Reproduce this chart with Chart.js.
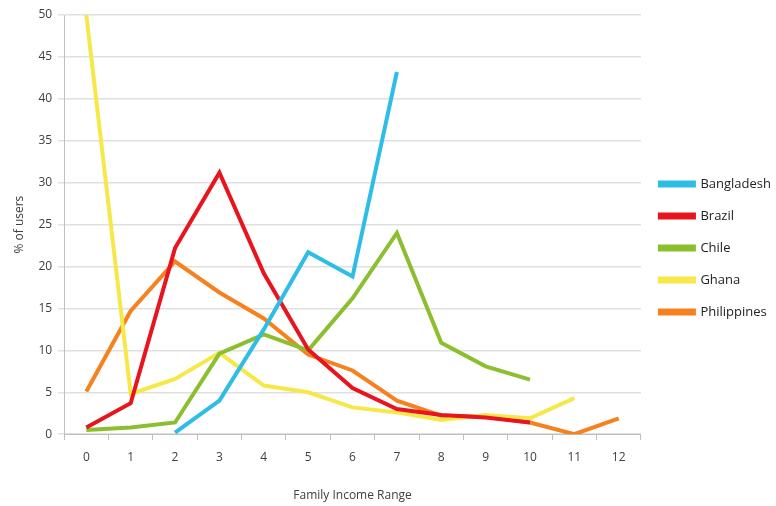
<!DOCTYPE html>
<html lang="en">
  <head>
    <meta charset="UTF-8" />
    <title>Family Income Range</title>
    <style>
      html, body { margin: 0; padding: 0; background: #fff; }
      #wrap { width: 776px; height: 506px; }
    </style>
  </head>
  <body>
    <div id="wrap"><canvas id="myChart" width="776" height="506"></canvas></div>

    <script src="https://cdn.jsdelivr.net/npm/chart.js"></script>
    <script>
      // income range categories on the x axis
      const incomeRanges = ["0", "1", "2", "3", "4", "5", "6", "7", "8", "9", "10", "11", "12"];

      // % of users per range, null where the country has no value
      const bangladesh = [null, null, 0.2, 4.0, 12.5, 21.7, 18.8, 43.2, null, null, null, null, null];
      const brazil = [0.8, 3.7, 22.2, 31.2, 19.2, 10.1, 5.5, 3.0, 2.3, 2.0, 1.4, null, null];
      const chile = [0.5, 0.8, 1.4, 9.6, 11.9, 10.0, 16.2, 24.0, 10.9, 8.1, 6.5, null, null];
      const ghana = [50, 4.8, 6.6, 9.7, 5.8, 5.0, 3.2, 2.6, 1.7, 2.3, 1.9, 4.3, null];
      const philippines = [5.1, 14.7, 20.6, 16.9, 13.8, 9.5, 7.6, 4.0, 2.2, 2.1, 1.4, 0.0, 1.9];

      const yTicks = [0, 5, 10, 15, 20, 25, 30, 35, 40, 45, 50];

      const font = "'Open Sans', 'DejaVu Sans', sans-serif";
      const textColor = "#404040";

      function line(label, data, color) {
        return {
          label: label,
          data: data,
          borderColor: color,
          backgroundColor: color,
          borderWidth: 4,
          pointRadius: 0,
          pointHoverRadius: 0,
          tension: 0,
          fill: false,
        };
      }

      // the legend in the original sits a bit above the middle
      const liftLegend = {
        id: "liftLegend",
        afterLayout(chart) {
          const lg = chart.legend;
          lg.top -= 11;
          lg.bottom -= 11;
          lg.adjustHitBoxes();
        },
      };

      const ctx = document.getElementById("myChart").getContext("2d");
      const myChart = new Chart(ctx, {
        type: "line",
        data: {
          labels: incomeRanges,
          datasets: [
            line("Bangladesh", bangladesh, "#2dbde6"),
            line("Brazil", brazil, "#e8141e"),
            line("Chile", chile, "#8cbf30"),
            line("Ghana", ghana, "#f7e84a"),
            line("Philippines", philippines, "#f5821f"),
          ],
        },
        plugins: [liftLegend],
        options: {
          responsive: false,
          animation: false,
          layout: { padding: { top: 15, right: -5, left: 12, bottom: 3 } },
          scales: {
            x: {
              offset: true,
              grid: {
                offset: true,
                drawOnChartArea: false,
                drawTicks: true,
                tickLength: 6,
                color: "#bfbfbf",
              },
              border: { color: "#bfbfbf", width: 1 },
              ticks: { color: textColor, font: { family: font, size: 12 }, padding: 10 },
              title: {
                display: true,
                text: "Family Income Range",
                color: textColor,
                font: { family: font, size: 12 },
                padding: { top: 14, bottom: 0 },
              },
            },
            y: {
              min: 0,
              max: 50,
              afterBuildTicks: (axis) => {
                axis.ticks = yTicks.map((v) => ({ value: v }));
              },
              grid: { color: "#e0e0e0", tickLength: 6, lineWidth: 1.5 },
              border: { color: "#bfbfbf", width: 1 },
              ticks: { color: textColor, font: { family: font, size: 12 }, padding: 6 },
              title: {
                display: true,
                text: "% of users",
                color: textColor,
                font: { family: font, size: 12 },
                padding: { top: 0, bottom: 6 },
              },
            },
          },
          plugins: {
            legend: {
              position: "right",
              labels: {
                color: "#222",
                font: { family: font, size: 13 },
                boxWidth: 34,
                boxHeight: 3,
                padding: 19,
              },
            },
            tooltip: { enabled: false },
          },
        },
      });
    </script>
  </body>
</html>
